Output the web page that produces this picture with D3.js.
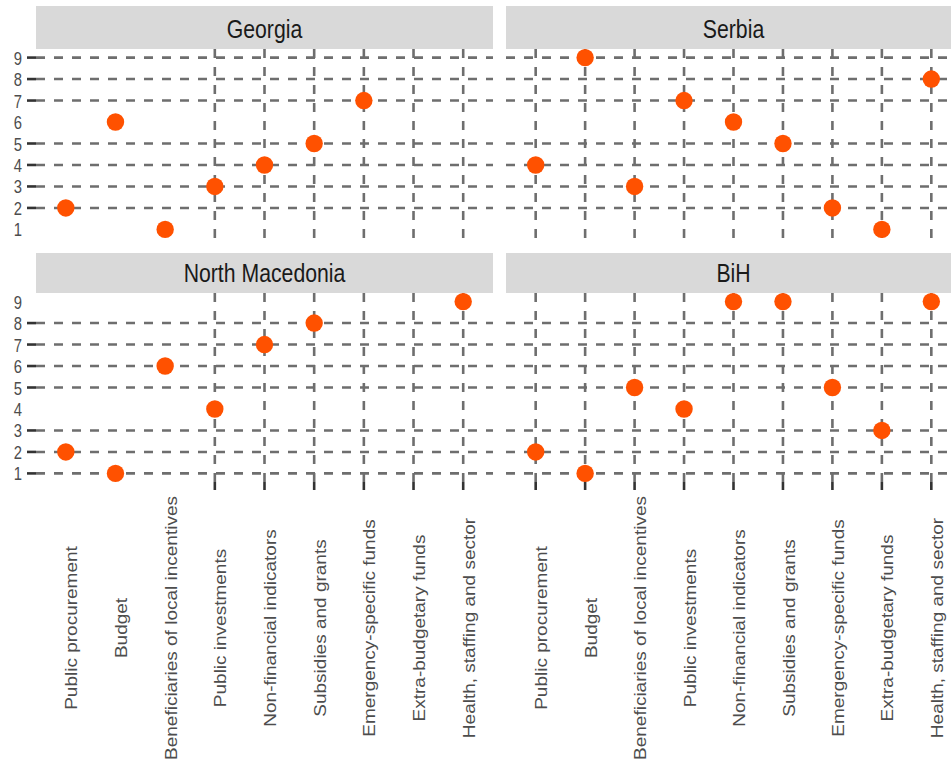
<!DOCTYPE html>
<html>
<head>
<meta charset="utf-8">
<script src="https://cdn.jsdelivr.net/npm/d3@7/dist/d3.min.js"></script>
<style>
  html, body { margin: 0; padding: 0; background: #ffffff; }
  svg { display: block; }
  text { font-family: "Liberation Sans", Arial, sans-serif; }
</style>
</head>
<body>
<script>
// Policy areas on the x axis
const categories = [
  "Public procurement",
  "Budget",
  "Beneficiaries of local incentives",
  "Public investments",
  "Non-financial indicators",
  "Subsidies and grants",
  "Emergency-specific funds",
  "Extra-budgetary funds",
  "Health, staffing and sector"
];

// Facet titles, in reading order
const countries = ["Georgia", "Serbia", "North Macedonia", "BiH"];

// Rank of each policy area per country (null = not ranked)
const georgiaRanks        = [2, 6, 1, 3, 4, 5, 7, null, null];
const serbiaRanks         = [4, 9, 3, 7, 6, 5, 2, 1, 8];
const northMacedoniaRanks = [2, 1, 6, 4, 7, 8, null, null, 9];
const bihRanks            = [2, 1, 5, 4, 9, 9, 5, 3, 9];

// Y tick labels
const yTickLabels = [1, 2, 3, 4, 5, 6, 7, 8, 9];

// Break sets that carry tick marks and grid lines
const topRowBreaks    = [2, 3, 4, 5, 7, 8, 9];
const bottomRowBreaks = [1, 2, 3, 5, 6, 7, 8];
const leftColBreaks   = categories.slice(3);
const rightColBreaks  = categories.slice();

const ranksByCountry = [georgiaRanks, serbiaRanks, northMacedoniaRanks, bihRanks];

const W = 951, H = 761;
const svg = d3.select("body").append("svg").attr("width", W).attr("height", H);

const cols = [[36, 493], [506, 961]];
const rows = [
  { strip: [6, 49], panel: [49, 238], breaks: topRowBreaks },
  { strip: [253, 293], panel: [293, 482], breaks: bottomRowBreaks }
];

const gridColor = "#6e6e6e";
const tickColor = "#333333";
const textColor = "#4d4d4d";
const pointColor = "#ff5100";
const SX = 0.85; // glyph width factor

countries.forEach((country, i) => {
  const c = i % 2, r = Math.floor(i / 2);
  const col = cols[c], row = rows[r];
  const x = d3.scalePoint().domain(categories).range(col).padding(0.6);
  const y = d3.scaleLinear().domain([0.6, 9.4]).range([row.panel[1], row.panel[0]]);
  const xBreaks = c === 0 ? leftColBreaks : rightColBreaks;
  const g = svg.append("g");

  // strip
  g.append("rect")
    .attr("x", col[0]).attr("y", row.strip[0])
    .attr("width", col[1] - col[0]).attr("height", row.strip[1] - row.strip[0])
    .attr("fill", "#d9d9d9");
  g.append("text")
    .attr("transform", `translate(${(col[0] + col[1]) / 2},${row.strip[1] - 11}) scale(${SX},1)`)
    .attr("text-anchor", "middle")
    .attr("font-size", 25)
    .attr("fill", "#1a1a1a")
    .text(country);

  // horizontal grid
  g.selectAll("line.hg").data(row.breaks).enter().append("line")
    .attr("x1", col[0]).attr("x2", col[1])
    .attr("y1", d => y(d)).attr("y2", d => y(d))
    .attr("stroke", gridColor).attr("stroke-width", 2.6)
    .attr("stroke-dasharray", "9,9");

  // vertical grid, drawn bottom to top
  g.selectAll("line.vg").data(xBreaks).enter().append("line")
    .attr("x1", d => x(d)).attr("x2", d => x(d))
    .attr("y1", row.panel[1]).attr("y2", row.panel[0])
    .attr("stroke", gridColor).attr("stroke-width", 2.6)
    .attr("stroke-dasharray", "9,9");

  // points
  const ranks = ranksByCountry[i];
  const pts = categories.map((cat, k) => ({ cat, v: ranks[k] })).filter(d => d.v != null);
  g.selectAll("circle").data(pts).enter().append("circle")
    .attr("cx", d => x(d.cat)).attr("cy", d => y(d.v))
    .attr("r", 8.7).attr("fill", pointColor);

  // y axis on left column
  if (c === 0) {
    g.selectAll("line.yt").data(row.breaks).enter().append("line")
      .attr("x1", col[0] - 9).attr("x2", col[0])
      .attr("y1", d => y(d)).attr("y2", d => y(d))
      .attr("stroke", tickColor).attr("stroke-width", 2.6);
    g.selectAll("text.yl").data(yTickLabels).enter().append("text")
      .attr("transform", d => `translate(22,${y(d) + 7}) scale(0.78,1)`)
      .attr("text-anchor", "end")
      .attr("font-size", 19)
      .attr("fill", textColor)
      .text(d => d);
  }

  // x axis on bottom row
  if (r === 1) {
    g.selectAll("line.xt").data(xBreaks).enter().append("line")
      .attr("x1", d => x(d)).attr("x2", d => x(d))
      .attr("y1", row.panel[1]).attr("y2", row.panel[1] + 8)
      .attr("stroke", tickColor).attr("stroke-width", 2.6);
    g.selectAll("text.xl").data(categories).enter().append("text")
      .attr("transform", d => `translate(${x(d) + 11.6},628) scale(${SX},1) rotate(-90)`)
      .attr("text-anchor", "middle")
      .attr("font-size", 19)
      .attr("fill", textColor)
      .text(d => d);
  }
});
</script>
</body>
</html>
